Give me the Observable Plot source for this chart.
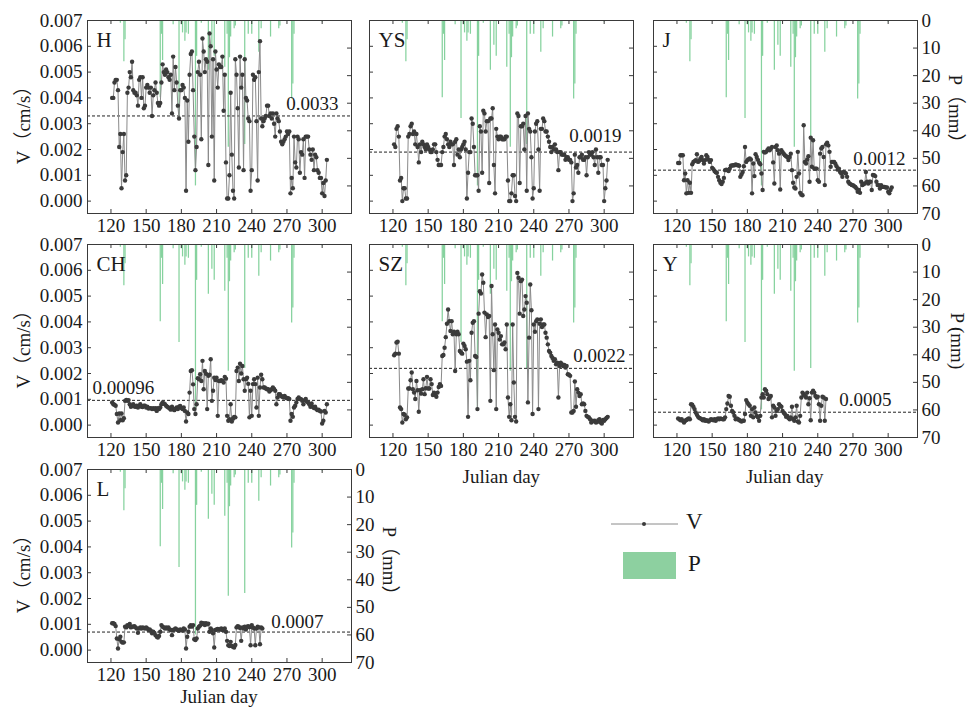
<!DOCTYPE html>
<html><head><meta charset="utf-8">
<script src="https://cdn.jsdelivr.net/npm/d3@7"></script>
<script src="https://cdn.jsdelivr.net/npm/@observablehq/plot@0.6"></script>
<style>
body{margin:0;background:#fff;}
#fig{position:relative;width:968px;height:715px;overflow:hidden;background:#fff;}
#fig svg{position:absolute;}
</style></head><body><div id="fig"></div>
<script>
const FONT = '"Liberation Serif","Times New Roman","Noto Sans CJK SC",serif';

// ---------- data ----------
const panelNames = ["H","YS","J","CH","SZ","Y","L"];
const meanValues = [0.0033,0.0019,0.0012,0.00096,0.0022,0.0005,0.0007];
const meanLabels = ["0.0033","0.0019","0.0012","0.00096","0.0022","0.0005","0.0007"];
const startDay = 121;
const xTicks = [120,150,180,210,240,270,300];
const vTicks = [0,1,2,3,4,5,6,7];           // ×0.001 cm/s
const pTicks = [0,10,20,30,40,50,60,70];

const precipDays = [128,131,132,162,163,164,173,178,180,181,183,184,186,192,193,197,203,206,208,217,219,220,221,222,225,226,234,237,240,246,248,256,263,264,274,275,276,300];
const precipMM   = [1,15,7,28,5,14.5,1.5,35.5,1.5,4.5,7.5,4.5,5,60,13,1,18,9,13,17,5,46,13.5,6,3,2,45,5,5,11.5,3,6,3,2,28.5,23,5,0.5];

// V in units of 0.001 cm/s, daily from day 121
const vH = [4.0,4.0,4.6,4.7,4.7,4.3,2.1,2.6,0.5,1.9,
2.6,0.8,1.0,4.2,4.4,5.0,4.8,5.4,4.3,4.2,
4.2,4.1,3.7,4.7,4.8,4.0,4.8,3.6,3.7,4.4,
4.5,4.4,4.2,4.4,3.3,4.1,4.3,4.6,4.2,3.8,
3.7,3.8,4.6,5.3,5.0,4.9,5.1,5.0,4.8,4.7,
4.9,3.4,5.6,4.3,5.2,4.6,3.7,3.2,4.3,4.3,4.5,4.4,
4.0,0.4,3.9,2.3,4.9,5.7,5.8,4.3,2.5,1.2,
2.1,5.0,5.4,4.9,2.4,6.3,5.8,5.0,5.5,5.4,
1.4,6.5,6.0,2.5,5.5,0.8,5.8,5.1,4.4,5.3,
5.2,5.2,5.6,3.5,4.9,1.5,0.1,0.1,1.0,4.2,
1.8,0.4,0.1,5.5,4.9,3.6,1.3,5.6,4.4,4.9,
1.2,5.5,4.0,3.9,3.2,3.1,0.4,1.2,4.9,4.7,
4.8,3.1,0.8,5.0,6.2,
3.2,2.9,3.1,3.2,3.3,3.7,3.7,3.3,3.4,3.2,3.4,3.0,2.5,3.4,3.2,3.1,2.7,2.3,2.2,2.3,2.4,2.5,2.7,2.6,2.7,
0.3,
0.9,0.5,2.5,1.5,1.3,2.5,2.4,1.1,1.9,1.8,2.4,0.9,2.5,2.5,2.5,2.0,1.8,1.6,2.0,1.2,1.8,1.7,1.2,1.1,0.9,0.9,0.3,0.7,0.2,0.8,1.6];

const vYS = [2.2,2.1,2.8,2.9,2.5,0.8,0.9,0.0,0.5,0.5,
0.1,0.1,2.5,2.6,2.9,3.0,2.6,2.7,2.2,2.6,
2.1,1.5,2.2,1.9,2.3,2.2,2.1,2.0,2.2,2.1,
2.0,1.9,1.9,2.0,2.2,2.2,1.9,1.6,1.4,1.4,
1.4,1.9,2.1,2.5,2.6,2.4,2.2,2.1,2.3,2.2,
2.2,1.4,2.3,2.4,1.8,2.0,1.7,2.0,2.1,2.2,
2.3,2.0,0.1,1.1,1.9,1.9,3.2,3.0,2.1,1.0,
1.0,1.0,0.4,2.9,2.7,1.1,3.5,3.4,2.7,3.1,
3.1,0.7,3.2,3.2,3.6,1.4,0.3,2.8,2.5,2.4,
2.5,2.5,2.4,2.4,2.4,2.5,2.5,0.8,0.0,0.0,
0.3,1.0,1.0,0.2,0.0,3.4,3.3,0.7,2.9,2.9,
3.0,2.0,3.3,0.4,3.4,2.8,2.7,1.7,0.1,0.5,
2.7,3.0,3.1,2.0,0.4,2.8,2.8,3.2,3.1,2.7,
2.7,2.5,2.3,2.1,1.9,2.1,2.0,2.2,2.0,1.9,
1.2,1.9,1.9,1.8,1.8,1.8,1.6,1.7,1.7,1.6,
1.6,1.5,0.0,0.3,1.8,1.3,1.4,1.1,1.7,1.7,
1.8,1.6,1.6,1.7,1.0,1.7,1.9,1.8,1.8,1.9,
1.7,1.4,2.0,1.7,1.1,1.7,1.7,1.4,1.4,0.0,
0.5,0.8,1.6];

const vJ = [1.48,1.48,1.78,1.78,1.78,0.81,1.07,0.30,0.81,0.32,
0.71,0.32,1.43,1.52,1.55,1.59,1.82,1.52,1.56,1.65,
1.71,1.59,1.46,1.59,1.78,1.71,1.60,1.52,1.59,1.29,
1.24,1.17,1.12,1.10,0.94,0.81,0.71,0.66,0.75,0.90,
1.20,1.22,1.20,1.17,1.26,1.37,1.38,1.39,1.39,1.42,
1.40,1.39,1.37,0.94,1.03,1.13,1.35,2.10,1.52,1.59,
1.62,1.65,1.61,0.30,1.46,0.97,1.82,1.71,1.60,1.49,
1.43,1.07,0.43,1.91,1.88,1.91,1.97,2.04,1.97,2.04,
2.10,1.50,0.68,2.10,2.16,1.97,1.84,0.45,1.97,1.90,
1.84,1.78,1.74,1.71,1.59,1.71,1.84,1.20,0.71,0.53,
0.49,0.94,1.91,1.07,0.32,0.25,0.23,2.94,1.52,1.46,
1.61,1.74,0.75,2.46,1.33,2.36,1.26,1.26,1.26,0.81,
0.75,1.84,2.04,2.10,1.71,0.62,2.20,2.26,2.16,1.91,
1.33,1.52,1.52,1.52,1.45,1.35,1.22,1.26,1.13,1.07,
0.94,1.13,1.10,1.07,0.94,0.75,0.68,0.66,0.62,0.62,
0.58,0.55,0.49,0.36,0.43,0.32,0.75,0.62,0.65,0.68,
1.13,0.75,0.68,0.75,0.75,0.43,1.01,1.00,0.97,0.75,
0.62,0.62,0.49,0.62,0.55,0.55,0.55,0.53,0.53,0.36,
0.30,0.43,0.53];

const vCH = [0.88,0.81,0.79,0.75,0.43,0.10,0.45,0.19,0.45,0.19,0.27,0.94,
0.98,0.94,0.97,0.81,0.71,0.75,0.81,0.72,0.71,0.75,0.68,
0.75,0.81,0.71,0.70,0.75,0.75,0.68,0.71,0.64,0.66,0.66,0.62,
0.66,0.62,0.66,0.55,0.66,0.62,0.68,0.81,0.88,0.84,
0.81,0.75,0.71,0.68,0.64,0.60,0.71,0.62,0.58,0.64,0.68,
0.62,0.71,0.74,0.66,0.62,0.68,0.55,
0.14,0.49,0.43,1.26,2.10,2.13,1.58,0.62,0.43,0.81,
1.82,1.78,1.97,1.71,2.49,1.39,2.10,1.99,0.62,1.91,1.95,2.55,0.94,1.33,1.84,1.75,1.84,0.36,
1.71,1.71,1.74,1.71,1.65,1.87,1.80,
0.36,0.17,0.23,0.81,0.14,0.25,0.32,0.30,
2.10,2.23,1.71,2.38,2.00,2.29,1.78,1.33,1.78,1.84,1.60,0.30,
1.33,0.36,1.59,1.78,1.59,0.68,1.84,0.36,1.46,1.95,
1.78,1.46,1.46,1.42,1.39,1.39,1.30,1.35,1.39,1.46,1.40,1.33,
0.81,1.07,1.20,1.20,1.13,1.10,1.07,1.13,1.07,1.04,1.04,1.01,
0.17,
0.43,0.32,0.68,0.75,0.88,1.01,1.07,1.01,1.00,0.94,
0.81,0.97,1.01,0.91,0.88,0.81,0.71,0.84,0.71,0.66,
0.71,0.62,0.58,0.60,0.55,0.53,
0.06,0.17,0.55,0.49,0.81];

const vSZ = [2.71,2.77,3.20,3.23,2.77,0.68,0.62,0.10,0.43,0.40,
0.23,0.30,1.42,1.42,1.74,2.04,1.39,1.26,1.01,1.71,
1.35,0.52,1.35,1.22,1.39,1.78,1.20,1.43,1.87,1.42,
1.42,1.78,1.59,1.17,1.26,1.17,1.10,1.26,1.48,1.59,
1.52,2.68,2.72,3.00,3.41,3.93,4.48,4.03,3.65,4.03,
3.52,3.62,2.10,3.52,3.62,3.52,2.87,2.81,2.77,3.16,
3.07,2.94,2.46,0.32,2.49,1.74,3.58,3.97,4.03,2.68,
2.64,0.62,4.32,5.19,5.10,5.84,5.52,4.36,3.41,
4.29,4.19,4.23,0.94,5.39,3.52,2.13,3.90,0.62,
3.71,3.58,3.32,3.45,3.13,3.13,3.20,2.94,3.90,1.07,
0.32,0.81,0.19,3.90,1.65,0.32,0.14,5.90,5.71,4.32,
5.58,5.64,4.23,4.48,5.00,4.74,0.88,3.39,5.45,4.45,
0.43,3.90,3.62,4.03,4.10,0.62,3.93,4.10,3.80,3.90,3.90,
3.58,3.39,3.13,2.87,2.81,2.68,2.60,2.49,2.55,2.36,2.42,
1.07,2.29,2.42,2.36,2.29,2.33,2.23,2.29,1.97,1.95,
1.91,0.49,0.49,0.55,1.69,0.71,1.39,1.26,1.13,1.20,
0.81,0.84,0.81,0.55,0.36,0.32,0.30,0.23,0.10,0.17,0.15,0.17,
0.10,0.12,0.19,0.23,0.10,0.06,0.20,0.17,0.23,0.28,0.32];

const vY = [0.26,0.23,0.19,0.23,0.17,0.10,0.17,0.20,0.23,0.26,0.23,
0.81,0.79,0.71,0.62,0.49,0.40,0.32,0.28,0.26,0.23,0.19,
0.23,0.17,0.19,0.17,0.14,0.19,0.23,0.21,0.19,0.23,0.17,
0.23,0.26,0.23,0.26,0.24,0.23,0.23,0.30,0.62,0.84,1.13,
1.10,0.75,0.55,0.49,0.36,0.23,0.26,0.23,0.20,0.17,0.14,
0.17,0.17,0.43,0.97,0.88,0.81,0.75,0.36,0.62,0.30,
0.68,0.49,0.36,0.30,0.17,0.36,1.07,1.20,1.07,1.39,
1.33,1.20,1.01,1.07,1.13,0.30,0.75,0.68,0.36,0.55,0.62,
0.81,0.75,0.71,0.55,0.48,0.43,0.32,0.36,0.28,0.23,0.30,0.71,
0.23,0.17,0.30,0.75,0.14,0.10,0.36,1.07,1.26,1.20,1.15,
1.07,1.26,0.81,1.04,0.19,1.26,1.33,1.26,1.13,1.07,1.10,
0.81,0.17,0.75,1.10,1.07,0.17,1.01];

const vL = [1.04,1.04,1.01,0.93,0.45,0.06,0.42,0.52,0.32,0.29,
0.30,0.91,0.88,0.97,0.93,1.01,0.88,0.91,0.91,0.93,0.88,
0.84,0.67,0.84,0.88,0.84,0.88,0.86,0.84,0.88,0.84,0.78,
0.80,0.75,0.65,0.71,0.67,0.58,0.52,0.49,0.55,0.71,0.97,
0.91,0.88,0.84,0.88,0.84,0.88,0.80,0.78,0.58,0.78,0.80,
0.84,0.80,0.78,0.75,0.80,0.78,0.76,0.84,0.80,
0.06,0.52,0.71,0.91,0.97,0.91,0.97,0.42,0.39,0.45,
0.84,0.91,0.95,1.06,1.01,1.04,0.97,1.04,1.00,1.02,
0.71,0.84,0.78,0.65,0.10,0.78,0.80,0.82,0.80,0.80,
0.84,0.78,0.80,0.84,0.71,0.36,0.19,0.16,0.32,0.16,
0.13,0.10,0.20,0.88,0.93,0.91,0.86,0.36,0.88,0.84,
0.91,0.80,0.91,0.93,0.89,0.19,0.97,0.88,0.84,0.19,
0.84,0.91,0.88,0.23,0.88,0.84];

const vSeries = [vH, vYS, vJ, vCH, vSZ, vY, vL];

// ---------- layout ----------
const colLeft = [87, 369.3, 652.7];
const rowTop = [20, 244.3, 469];
const PW = 264, PH = 193;
const ML = 70, MR = 50, MT = 10, MB = 40;
const gridPos = [[0,0],[1,0],[2,0],[0,1],[1,1],[2,1],[0,2]];
const meanLabelPlace = [
  {anchor:"right", dx:-13, dy:-6}, {anchor:"right", dx:-12, dy:-10}, {anchor:"right", dx:-12, dy:-5},
  {anchor:"left", dx:5, dy:-6}, {anchor:"right", dx:-8, dy:-6}, {anchor:"right", dx:-26, dy:-6}, {anchor:"right", dx:-28, dy:-4}
];
const GREEN = "#86d29e";
const INK = "#1a1a1a";
const FRAME = "#3a3a3a";

const fig = document.getElementById("fig");
const precip = precipDays.map((d,i) => ({day: d, p: precipMM[i]}));

const baseStyle = {background:"transparent", overflow:"visible", fontFamily: FONT, fontSize:"19px", color: INK};

panelNames.forEach((name, k) => {
  const [c, r] = gridPos[k];
  const left = colLeft[c] - ML, top = rowTop[r] - MT;
  const showLeft = c === 0;
  const showRight = c === 2 || name === "L";
  const series = vSeries[k].map((v,i) => ({day: startDay + i, v}));

  // precipitation layer (behind)
  const pMarks = [
    Plot.ruleX(precip, {x:"day", y1:0, y2:"p", stroke: GREEN, strokeWidth:1.25}),
    Plot.tickY(pTicks.slice(1,-1), {y: d=>d, insetLeft: PW-4, stroke: FRAME})
  ];
  if (showRight) pMarks.push(Plot.axisY(pTicks, {anchor:"right", tickSize:0, tickPadding:4, label:null}));
  const pPlot = Plot.plot({
    width: PW+ML+MR, height: PH+MT+MB, marginLeft: ML, marginRight: MR, marginTop: MT, marginBottom: MB,
    style: baseStyle,
    x: {domain:[100,325], axis:null},
    y: showRight ? {domain:[0,70], reverse:true} : {domain:[0,70], reverse:true, axis:null},
    marks: pMarks
  });
  pPlot.style.left = left + "px"; pPlot.style.top = top + "px";
  fig.appendChild(pPlot);

  // velocity layer
  const pl = meanLabelPlace[k];
  const vMarks = [
    Plot.ruleY([meanValues[k]*1000], {stroke:"#222", strokeDasharray:"3,2", strokeWidth:1}),
    Plot.line(series, {x:"day", y:"v", stroke:"#8a8a8a", strokeWidth:1}),
    Plot.dot(series, {x:"day", y:"v", r:2.2, fill:"#3b3b3b"}),
    Plot.frame({stroke: FRAME}),
    Plot.tickY(vTicks.slice(0,-1), {y: d=>d, insetRight: PW-4, stroke: FRAME}),
    Plot.tickX(xTicks, {x: d=>d, insetTop: PH-4, stroke: FRAME}),
    Plot.tickX(xTicks, {x: d=>d, insetBottom: PH-4, stroke: FRAME}),
    Plot.axisX(xTicks, {tickSize:0, tickPadding:5, label:null}),
    Plot.text([name], {text: d=>d, frameAnchor:"top-left", dx:9, dy:12, lineAnchor:"top", fontSize:21, fill: INK}),
    Plot.text([{v: meanValues[k]*1000, t: meanLabels[k]}], {y:"v", text:"t", frameAnchor: pl.anchor,
      textAnchor: pl.anchor === "right" ? "end" : "start", dx: pl.dx, dy: pl.dy, lineAnchor:"bottom", fill: INK})
  ];
  if (showLeft) vMarks.push(Plot.axisY(vTicks, {tickSize:0, tickPadding:5, label:null, tickFormat: d => (d/1000).toFixed(3)}));
  const vPlot = Plot.plot({
    width: PW+ML+MR, height: PH+MT+MB, marginLeft: ML, marginRight: MR, marginTop: MT, marginBottom: MB,
    style: baseStyle,
    x: {domain:[100,325]},
    y: showLeft ? {domain:[-0.48,7]} : {domain:[-0.48,7], axis:null},
    marks: vMarks
  });
  vPlot.style.left = left + "px"; vPlot.style.top = top + "px";
  fig.appendChild(vPlot);
});

// ---------- titles & legend ----------
const svg = d3.select(fig).append("svg").attr("width",968).attr("height",715)
  .style("left","0px").style("top","0px").style("font-family", FONT).style("font-size","19px").attr("fill", INK);
const rowMid = rowTop.map(t => t + PH/2);
rowMid.forEach(y => {
  svg.append("text").attr("transform",`translate(26,${y+4}) rotate(-90)`)
    .attr("text-anchor","middle").attr("dominant-baseline","middle").text("V（cm/s）");
});
svg.append("text").attr("transform",`translate(953,${rowMid[0]-3}) rotate(90)`)
  .attr("text-anchor","middle").attr("dominant-baseline","middle").text("P（mm）");
svg.append("text").attr("transform",`translate(955,${rowMid[1]}) rotate(90)`)
  .attr("text-anchor","middle").attr("dominant-baseline","middle").text("P (mm)");
svg.append("text").attr("transform",`translate(387,${rowMid[2]}) rotate(90)`)
  .attr("text-anchor","middle").attr("dominant-baseline","middle").text("P（mm）");
[[colLeft[1]+PW/2, 479],[colLeft[2]+PW/2, 479],[colLeft[0]+PW/2, 699]].forEach(([x,y]) => {
  svg.append("text").attr("x",x).attr("y",y).attr("text-anchor","middle").attr("dominant-baseline","middle").text("Julian day");
});
// legend
svg.append("line").attr("x1",611).attr("x2",678).attr("y1",524).attr("y2",524).attr("stroke","#8a8a8a").attr("stroke-width",1);
svg.append("circle").attr("cx",644).attr("cy",524).attr("r",2).attr("fill","#3b3b3b");
svg.append("text").attr("x",686).attr("y",524).attr("dominant-baseline","middle").attr("font-size","23px").text("V");
svg.append("rect").attr("x",623).attr("y",552).attr("width",53).attr("height",27).attr("fill","#8dd0a0");
svg.append("text").attr("x",688).attr("y",566).attr("dominant-baseline","middle").attr("font-size","23px").text("P");
</script></body></html>
